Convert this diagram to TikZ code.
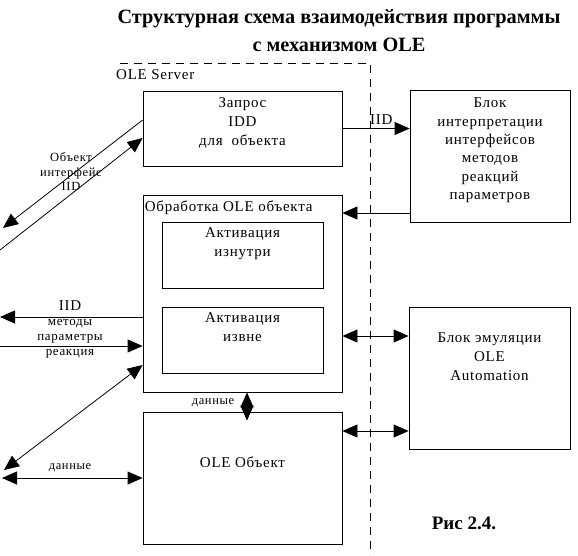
\documentclass[tikz,border=0pt]{standalone}
\usepackage{fontspec}
\setmainfont{Liberation Serif}
\newfontfamily\espace[LetterSpace=5]{Liberation Serif}
\usetikzlibrary{arrows.meta,positioning}
\begin{document}
\begin{tikzpicture}[x=1pt, y=-1pt]
	\tikzset{bloc/.style={draw=black, line width=0.8pt, inner sep=0pt}, texte/.style={align=center, font=\espace\fontsize{15}{19}\selectfont, inner sep=1pt}, petit/.style={align=center, font=\espace\fontsize{12.5}{14.5}\selectfont, inner sep=0pt}, fleche/.style={line width=0.8pt, -{Triangle[length=15pt, width=13pt]}}, dfleche/.style={line width=0.8pt, {Triangle[length=15pt, width=13pt]}-{Triangle[length=15pt, width=13pt]}}};

	\useasboundingbox (0,0) rectangle (578,555);

	\node[font=\bfseries\fontsize{20.3}{28}\selectfont, align=center] (titre) at (339,31) {Структурная схема взаимодействия программы\\с механизмом OLE};
	\node[font=\bfseries\fontsize{19}{22}\selectfont] (fig) at (464,523) {Рис 2.4.};

	\draw[line width=0.8pt, dash pattern=on 8pt off 6pt] (120,63) -- (370,63) -- (370,555);
	\node[texte, anchor=west] (serveur) at (115,75) {OLE Server};

	\node[bloc, minimum width=199pt, minimum height=75pt]  (req)    at (242.5,128.5) {};
	\node[bloc, minimum width=160pt, minimum height=132pt] (interp) at (490,156)     {};
	\node[bloc, minimum width=199pt, minimum height=197pt] (trait)  at (242.5,293.5) {};
	\node[bloc, minimum width=161pt, minimum height=66pt]  (act1)   at (242.5,255)   {};
	\node[bloc, minimum width=161pt, minimum height=66pt]  (act2)   at (242.5,340)   {};
	\node[bloc, minimum width=199pt, minimum height=132pt] (obj)    at (242.5,478)   {};
	\node[bloc, minimum width=161pt, minimum height=142pt] (emul)   at (489.5,378)   {};

	\node[texte, below=6pt of req.north] (treq) {Запрос\\IDD\\для~~объекта};
	\node[texte, below=7pt of interp.north, font=\espace\fontsize{15}{18.4}\selectfont] (tinterp) {Блок\\интерпретации\\интерфейсов\\методов\\реакций\\параметров};
	\node[texte, anchor=north west] (ttrait) at ([xshift=1pt, yshift=-5pt]trait.north west) {Обработка OLE объекта};
	\node[texte, below=5pt of act1.north] (tact1) {Активация\\изнутри};
	\node[texte, below=5pt of act2.north] (tact2) {Активация\\извне};
	\node[texte, below=44pt of obj.north] (tobj) {OLE Объект};
	\node[texte, below=25pt of emul.north] (temul) {Блок эмуляции\\OLE\\Automation};

	\coordinate (g1) at (3,228);
	\coordinate (g2) at (0,250);
	\coordinate (g3) at (0,317);
	\coordinate (g4) at (0,346);
	\coordinate (g5) at (4,470);
	\coordinate (g6) at (2,478);

	\draw[fleche] ([yshift=8.5pt]req.west) -- (g1);
	\draw[fleche] (g2) -- ([yshift=-9.5pt]req.west);
	\draw[fleche] (req.east) -- (req.east -| interp.west) node[texte, pos=0.58, above=3pt] (liid1) {IID};
	\draw[fleche] ([yshift=-57pt]interp.west) -- ([yshift=-57pt]interp.west -| trait.east);
	\draw[fleche] ([yshift=-23.5pt]trait.west) -- (g3);
	\draw[fleche] (g4) -- ([yshift=-52.5pt]trait.west);
	\draw[dfleche] ([yshift=-71.5pt]trait.west) -- (g5);
	\draw[dfleche] ([yshift=-42.5pt]trait.east) -- ([yshift=-42.5pt]trait.east -| emul.west);
	\draw[dfleche] ([yshift=47pt]obj.east) -- ([yshift=47pt]obj.east -| emul.west);
	\draw[dfleche] (g6) -- (obj.west);
	\draw[dfleche] ([xshift=4.5pt]trait.south) -- ([xshift=4.5pt, yshift=-9pt]obj.north);

	\node[petit] (lobj) at (71,172) {Объект\\интерфейс\\IID};
	\node[texte] (liid2) at (70,306) {IID};
	\node[petit, font=\espace\fontsize{13}{15}\selectfont] (lmeth) at (70,339) {методы\\параметры\\реакция};
	\node[petit] (ldon1) at (70,468) {данные};
	\node[petit] (ldon2) at (213,403) {данные};

\end{tikzpicture}
\end{document}
